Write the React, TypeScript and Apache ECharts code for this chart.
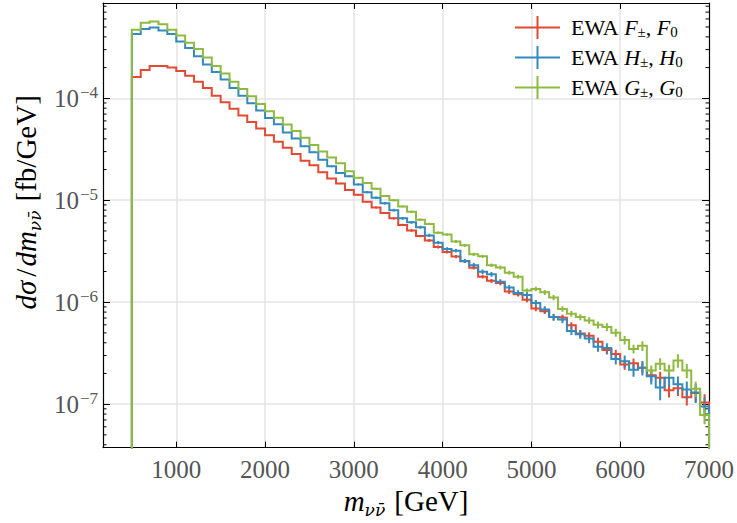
import React, { useEffect, useRef } from 'react';
import * as echarts from 'echarts';

// ---- data (bin width 100 GeV, first bin starts at 500 GeV) ----
const BIN_START = 500;
const BIN_WIDTH = 100;

// EWA F±, F0  (red)
const ewaF = [
  1.62e-4, 1.89e-4, 2.07e-4, 2.07e-4, 2.0e-4, 1.85e-4, 1.66e-4, 1.45e-4, 1.26e-4, 1.06e-4,
  9.14e-5, 7.88e-5, 6.79e-5, 5.85e-5, 5.04e-5, 4.35e-5, 3.75e-5, 3.28e-5, 2.84e-5, 2.44e-5,
  2.2e-5, 1.88e-5, 1.63e-5, 1.46e-5, 1.26e-5, 1.13e-5, 9.64e-6, 8.5e-6, 7.48e-6, 6.65e-6,
  5.73e-6, 5.05e-6, 4.45e-6, 4.04e-6, 3.48e-6, 3.11e-6, 2.8e-6, 2.52e-6, 2.18e-6, 1.78e-6,
  1.62e-6, 1.54e-6, 1.27e-6, 1.2e-6, 1.06e-6, 8.67e-7, 8.17e-7, 7.14e-7, 7.05e-7, 5.93e-7,
  4.93e-7, 4.68e-7, 4.1e-7, 3.4e-7, 3.11e-7, 2.45e-7, 2.52e-7, 2.28e-7, 1.92e-7, 1.82e-7,
  1.37e-7, 1.43e-7, 1.17e-7, 1.29e-7, 1.04e-7,
];
// EWA H±, H0  (blue)
const ewaH = [
  4.26e-4, 4.79e-4, 4.94e-4, 4.62e-4, 4.26e-4, 3.61e-4, 3.12e-4, 2.59e-4, 2.15e-4, 1.81e-4,
  1.53e-4, 1.26e-4, 1.06e-4, 8.94e-5, 7.6e-5, 6.4e-5, 5.56e-5, 4.62e-5, 4.04e-5, 3.38e-5,
  2.96e-5, 2.49e-5, 2.15e-5, 1.85e-5, 1.72e-5, 1.43e-5, 1.2e-5, 1.06e-5, 9.35e-6, 8.0e-6,
  6.65e-6, 6.08e-6, 5.44e-6, 4.52e-6, 3.84e-6, 3.33e-6, 3.2e-6, 2.54e-6, 2.31e-6, 1.99e-6,
  1.88e-6, 1.59e-6, 1.39e-6, 1.23e-6, 1.18e-6, 9.8e-7, 8.48e-7, 7.15e-7, 6.78e-7, 5.23e-7,
  4.85e-7, 4.4e-7, 3.66e-7, 3.55e-7, 2.78e-7, 2.64e-7, 2.18e-7, 2.28e-7, 1.88e-7, 1.46e-7,
  1.82e-7, 1.57e-7, 1.39e-7, 1.3e-7, 9.5e-8,
];
// EWA G±, G0  (green)
const ewaG = [
  4.69e-4, 5.52e-4, 5.65e-4, 5.32e-4, 4.69e-4, 4.13e-4, 3.51e-4, 3.05e-4, 2.51e-4, 2.07e-4,
  1.75e-4, 1.45e-4, 1.23e-4, 1.045e-4, 8.8e-5, 7.48e-5, 6.44e-5, 5.52e-5, 4.78e-5, 4.1e-5,
  3.48e-5, 3.0e-5, 2.63e-5, 2.31e-5, 1.92e-5, 1.66e-5, 1.48e-5, 1.3e-5, 1.1e-5, 1.0e-5,
  8.7e-6, 7.7e-6, 6.45e-6, 5.86e-6, 4.8e-6, 4.62e-6, 3.94e-6, 3.61e-6, 2.95e-6, 2.82e-6,
  2.31e-6, 2.19e-6, 1.95e-6, 1.78e-6, 1.3e-6, 1.35e-6, 1.25e-6, 1.11e-6, 8.6e-7, 7.7e-7,
  7.14e-7, 6.63e-7, 6.0e-7, 5.72e-7, 5.03e-7, 4.25e-7, 3.48e-7, 3.74e-7, 2.14e-7, 2.49e-7,
  2.14e-7, 2.68e-7, 2.14e-7, 1.42e-7, 7.85e-8,
];

// relative statistical uncertainties per bin
const errF = [
  0.004, 0.004, 0.004, 0.004, 0.004, 0.005, 0.005, 0.005, 0.006, 0.006, 0.007, 0.007, 0.008, 0.008, 0.009,
  0.01, 0.01, 0.011, 0.012, 0.013, 0.014, 0.015, 0.016, 0.017, 0.018,
  0.019, 0.02, 0.021, 0.022, 0.024, 0.025, 0.027, 0.028, 0.03, 0.032,
  0.034, 0.036, 0.038, 0.04, 0.043, 0.045, 0.048, 0.05, 0.053, 0.056,
  0.06, 0.063, 0.067, 0.07, 0.075, 0.08, 0.085, 0.09, 0.095, 0.1,
  0.11, 0.115, 0.12, 0.13, 0.14, 0.15, 0.16, 0.17, 0.18, 0.2,
];
const errH = [
  0.005, 0.005, 0.005, 0.005, 0.005, 0.006, 0.006, 0.006, 0.007, 0.007, 0.008, 0.008, 0.009, 0.01, 0.01,
  0.011, 0.012, 0.013, 0.014, 0.015, 0.016, 0.017, 0.018, 0.02, 0.021,
  0.022, 0.024, 0.025, 0.027, 0.029, 0.03, 0.032, 0.034, 0.036, 0.038,
  0.04, 0.042, 0.045, 0.048, 0.05, 0.053, 0.056, 0.06, 0.063, 0.066,
  0.07, 0.075, 0.08, 0.085, 0.09, 0.095, 0.1, 0.11, 0.115, 0.12,
  0.14, 0.15, 0.16, 0.17, 0.25, 0.18, 0.19, 0.2, 0.21, 0.22,
];
const errG = [
  0.004, 0.004, 0.004, 0.004, 0.004, 0.005, 0.005, 0.005, 0.005, 0.006, 0.006, 0.006, 0.007, 0.007, 0.008,
  0.008, 0.009, 0.01, 0.01, 0.011, 0.012, 0.013, 0.014, 0.015, 0.016,
  0.017, 0.018, 0.019, 0.02, 0.021, 0.022, 0.024, 0.025, 0.027, 0.028,
  0.03, 0.032, 0.034, 0.036, 0.038, 0.04, 0.042, 0.044, 0.047, 0.05,
  0.053, 0.056, 0.06, 0.063, 0.067, 0.07, 0.075, 0.08, 0.085, 0.09,
  0.095, 0.1, 0.11, 0.12, 0.13, 0.14, 0.15, 0.16, 0.17, 0.19,
];

const xTicks = [1000, 2000, 3000, 4000, 5000, 6000, 7000];
const yDecades = [-8, -7, -6, -5, -4, -3];

// axis limits
const X_MIN = 175;
const X_MAX = 7000;
const Y_MIN = 3.75e-8;
const Y_MAX = 8.6e-4;
const FLOOR = 1e-10;

const SERIF = '"Liberation Serif", "DejaVu Serif", serif';
const SUBFONT = '"DejaVu Serif", "Liberation Serif", serif';
const RED = '#E24A33';
const BLUE = '#348ABD';
const GREEN = '#8EBA42';

function stepData(vals: number[]) {
  const pts: number[][] = [[BIN_START, FLOOR]];
  vals.forEach((v, i) => pts.push([BIN_START + i * BIN_WIDTH, v]));
  const end = BIN_START + vals.length * BIN_WIDTH;
  pts.push([end, vals[vals.length - 1]]);
  pts.push([end, FLOOR]);
  return pts;
}

function errData(vals: number[], rel: number[]) {
  return vals.map((v, i) => [
    BIN_START + (i + 0.5) * BIN_WIDTH,
    v * (1 - rel[i]),
    v * (1 + rel[i]),
  ]);
}

const minorVals: number[][] = [];
yDecades.forEach((d) => {
  for (let m = 2; m <= 9; m++) {
    const v = m * Math.pow(10, d);
    if (v > Y_MIN && v < Y_MAX) minorVals.push([X_MIN, v]);
  }
});

const isDecade = (v: number) => {
  const l = Math.log10(v);
  return Math.abs(l - Math.round(l)) < 1e-6;
};

const titleRich = {
  i: { fontFamily: SERIF, fontSize: 29, fontStyle: 'italic', color: '#000', lineHeight: 34 },
  r: { fontFamily: SERIF, fontSize: 29, color: '#000', lineHeight: 34 },
  sl: { fontFamily: SERIF, fontSize: 29, color: '#000', lineHeight: 34, padding: [0, 2, 0, 4] },
  g: { fontFamily: SERIF, fontSize: 29, color: '#000', lineHeight: 34, padding: [0, 0, 0, 9] },
  s: { fontFamily: SUBFONT, fontSize: 17, fontStyle: 'italic', color: '#000', lineHeight: 17, verticalAlign: 'bottom' },
};

export default function App() {
  const ref = useRef<HTMLDivElement>(null);
  useEffect(() => {
    if (!ref.current) return;
    const chart = echarts.init(ref.current, undefined, { renderer: 'svg' });

    const errSeries = (name: string, vals: number[], rel: number[], color: string) => ({
      type: 'custom',
      name: name + '_err',
      clip: true,
      silent: true,
      encode: { x: 0, y: [1, 2] },
      data: errData(vals, rel),
      renderItem: (params: any, api: any) => {
        const x = api.value(0);
        const p1 = api.coord([x, api.value(1)]);
        const p2 = api.coord([x, api.value(2)]);
        return {
          type: 'line',
          shape: { x1: p1[0], y1: p1[1], x2: p2[0], y2: p2[1] },
          style: { stroke: color, lineWidth: 2 },
        };
      },
    });

    const stepSeries = (name: string, vals: number[], color: string) => ({
      type: 'line',
      name,
      step: 'end',
      data: stepData(vals),
      showSymbol: false,
      symbol: 'none',
      color,
      lineStyle: { color, width: 2, join: 'miter' },
      emphasis: { disabled: true },
    });

    const legendNames: Record<string, string> = {
      F: '{r|EWA }{i|F}{s|±}{r|, }{i|F}{s|0}',
      H: '{r|EWA }{i|H}{s|±}{r|, }{i|H}{s|0}',
      G: '{r|EWA }{i|G}{s|±}{r|, }{i|G}{s|0}',
    };

    const tickLabelRich = {
      b: { fontFamily: SERIF, fontSize: 25, color: '#555', lineHeight: 28 },
      e: { fontFamily: SERIF, fontSize: 17, color: '#555', lineHeight: 17, verticalAlign: 'top', padding: [0, 0, 0, 1] },
    };

    const option: any = {
      animation: false,
      backgroundColor: '#fff',
      grid: { left: 103, right: 26, top: 3, bottom: 70, containLabel: false },
      legend: {
        data: ['F', 'H', 'G'],
        orient: 'vertical',
        left: 510,
        top: 11,
        itemWidth: 45,
        itemHeight: 23,
        itemGap: 6.5,
        icon: 'path://M0,10.5h45v2h-45z M21.5,0h2v23h-2z',
        itemStyle: { borderWidth: 0 },
        selectedMode: false,
        formatter: (n: string) => legendNames[n],
        textStyle: {
          fontFamily: SERIF,
          fontSize: 22,
          color: '#000',
          padding: [0, 0, 0, 6],
          rich: {
            r: { fontFamily: SERIF, fontSize: 22, color: '#000', lineHeight: 24 },
            i: { fontFamily: SERIF, fontSize: 22, fontStyle: 'italic', color: '#000', lineHeight: 24 },
            s: { fontFamily: SERIF, fontSize: 15, color: '#000', lineHeight: 13, verticalAlign: 'bottom' },
          },
        },
      },
      xAxis: [
        {
          type: 'value',
          min: X_MIN,
          max: X_MAX,
          position: 'bottom',
          name: '{i|m}{s|νν̄}{g|[GeV]}',
          nameLocation: 'middle',
          nameGap: 30,
          nameTextStyle: { rich: titleRich },
          axisLine: { show: true, onZero: false, lineStyle: { color: '#000', width: 1.2 } },
          axisTick: { show: true, inside: true, length: 6, lineStyle: { color: '#000', width: 1 } },
          axisLabel: {
            margin: 9,
            fontFamily: SERIF,
            fontSize: 25,
            color: '#555',
            formatter: (v: number) => (xTicks.includes(Math.round(v)) && Math.abs(v - Math.round(v)) < 1e-6 ? String(Math.round(v)) : ''),
          },
          splitLine: { show: true, showMinLine: false, showMaxLine: false, lineStyle: { color: '#e5e5e5', width: 1.5 } },
        },
        {
          type: 'value',
          min: X_MIN,
          max: X_MAX,
          position: 'top',
          axisLine: { show: true, onZero: false, lineStyle: { color: '#000', width: 1.2 } },
          axisTick: { show: true, inside: true, length: 6, lineStyle: { color: '#000', width: 1 } },
          axisLabel: { show: false },
          splitLine: { show: false },
        },
      ],
      yAxis: [
        {
          type: 'log',
          logBase: 10,
          min: Y_MIN,
          max: Y_MAX,
          position: 'left',
          name: '{i|dσ}{sl|/}{i|dm}{s|νν̄}{g|[fb/GeV]}',
          nameLocation: 'middle',
          nameGap: 53,
          nameTextStyle: {
            padding: [0, 0, 0, 46],
            rich: titleRich,
          },
          axisLine: { show: true, onZero: false, lineStyle: { color: '#000', width: 1.2 } },
          axisTick: { show: true, inside: true, length: 7, lineStyle: { color: '#000', width: 1 } },
          axisLabel: {
            margin: 5,
            rich: tickLabelRich,
            formatter: (v: number) => {
              if (!isDecade(v)) return '';
              const e = Math.round(Math.log10(v));
              return '{b|10}{e|' + (e < 0 ? '−' + Math.abs(e) : String(e)) + '}';
            },
          },
          splitLine: { show: true, showMinLine: false, showMaxLine: false, lineStyle: { color: '#e5e5e5', width: 1.5 } },
        },
        {
          type: 'log',
          logBase: 10,
          min: Y_MIN,
          max: Y_MAX,
          position: 'right',
          axisLine: { show: true, onZero: false, lineStyle: { color: '#000', width: 1.2 } },
          axisTick: { show: true, inside: true, length: 7, lineStyle: { color: '#000', width: 1 } },
          axisLabel: { show: false },
          splitLine: { show: false },
        },
      ],
      series: [
        {
          type: 'custom',
          name: 'minor',
          silent: true,
          data: minorVals,
          encode: { x: 0, y: 1 },
          z: 3,
          renderItem: (params: any, api: any) => {
            const v = api.value(1);
            const pl = api.coord([X_MIN, v]);
            const pr = api.coord([X_MAX, v]);
            return {
              type: 'group',
              children: [
                { type: 'line', shape: { x1: pl[0], y1: pl[1], x2: pl[0] + 3.5, y2: pl[1] }, style: { stroke: '#000', lineWidth: 1 } },
                { type: 'line', shape: { x1: pr[0] - 3.5, y1: pr[1], x2: pr[0], y2: pr[1] }, style: { stroke: '#000', lineWidth: 1 } },
              ],
            };
          },
        },
        stepSeries('F', ewaF, RED),
        errSeries('F', ewaF, errF, RED),
        stepSeries('H', ewaH, BLUE),
        errSeries('H', ewaH, errH, BLUE),
        stepSeries('G', ewaG, GREEN),
        errSeries('G', ewaG, errG, GREEN),
      ],
    };

    chart.setOption(option);
    return () => chart.dispose();
  }, []);

  return (
    <div
      ref={ref}
      style={{ position: 'fixed', left: 0, top: 0, width: 737, height: 523, background: '#fff' }}
    />
  );
}
